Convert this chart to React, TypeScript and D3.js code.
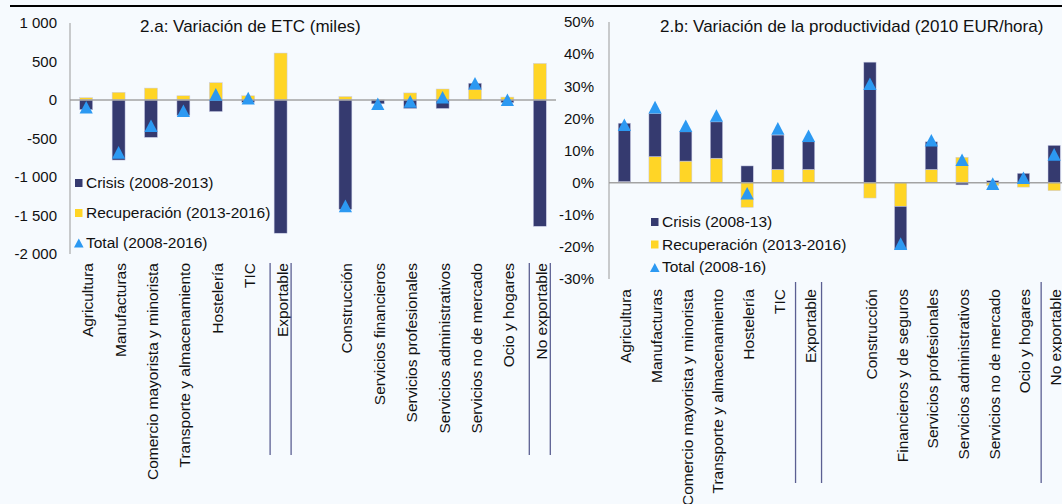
import React from "react";
import * as d3 from "d3";

// ---------- DATA ----------
const categoriesLeft = [
  "Agricultura", "Manufacturas", "Comercio mayorista y minorista", "Transporte y almacenamiento",
  "Hostelería", "TIC", "Exportable", "", "Construcción", "Servicios financieros",
  "Servicios profesionales", "Servicios administrativos", "Servicios no de mercado",
  "Ocio y hogares", "No exportable",
];
const categoriesRight = [
  "Agricultura", "Manufacturas", "Comercio mayorista  y minorista", "Transporte y almacenamiento",
  "Hostelería", "TIC", "Exportable", "", "Construcción", "Financieros y de seguros",
  "Servicios profesionales", "Servicios administrativos", "Servicios no de mercado",
  "Ocio y hogares", "No exportable",
];

// 2.a  Variación de ETC (miles)
const crisisLeft = [-125, -780, -485, -200, -150, -30, -1730, null, -1420, -50, -110, -110, 80, -35, -1640];
const recupLeft = [30, 100, 155, 55, 225, 55, 610, null, 45, 2, 92, 143, 138, 38, 475];
const totalLeft = [-95, -680, -335, -140, 73, 25, null, null, -1375, -48, -18, 35, 218, 3, null];

// 2.b  Variación de la productividad (%)
const crisisRight = [18.2, 13.4, 9.1, 11.3, 5.2, 10.7, 8.6, null, 37.5, -13.5, 8.6, -0.7, 0.6, 2.9, 11.6];
const recupRight = [0.3, 8.1, 6.7, 7.6, -7.7, 4.1, 4.1, null, -4.8, -7.4, 4.1, 7.9, -0.9, -1.4, -2.5];
const totalRight = [18.0, 23.5, 17.7, 20.9, -3.3, 16.9, 14.6, null, 30.8, -19.0, 13.2, 7.1, -0.3, 1.5, 8.8];

const ticksLeft = [1000, 500, 0, -500, -1000, -1500, -2000];
const ticksRight = [50, 40, 30, 20, 10, 0, -10, -20, -30];

const titleLeft = "2.a: Variación de ETC (miles)";
const titleRight = "2.b: Variación de la productividad (2010 EUR/hora)";
const legendLeft = ["Crisis (2008-2013)", "Recuperación (2013-2016)", "Total (2008-2016)"];
const legendRight = ["Crisis (2008-13)", "Recuperación (2013-2016)", "Total (2008-16)"];
const groupIdx = [6, 14];

// ---------- STYLE ----------
const W = 1062, H = 504;
const BG = "#f6fafe";
const NAVY = "#353a6f";
const YELLOW = "#ffd526";
const BLUE = "#2c99f2";
const FONT = "'Liberation Sans', Arial, sans-serif";
const fmtLeft = (v: number) => {
  const s = Math.abs(v).toString().replace(/\B(?=(\d{3})+(?!\d))/g, " ");
  return (v < 0 ? "-" : "") + s;
};
const fmtRight = (v: number) => `${v}%`;

type PanelProps = {
  cats: string[]; crisis: (number | null)[]; recup: (number | null)[]; total: (number | null)[];
  ticks: number[]; fmt: (v: number) => string; domain: [number, number];
  x0: number; x1: number; yTop: number; yBot: number; tickX: number;
  title: string; titleX: number; legend: string[]; legX: number; legY: number[];
  labelTop: number; sepOff: number; sepY: [number, number];
};

const tri = (s: number, h: number) => `M0,${-h} L${s},${h} L${-s},${h} Z`;

function Panel(p: PanelProps) {
  const idx = p.cats.map((_, i) => String(i));
  const x = d3.scaleBand().domain(idx).range([p.x0, p.x1]).paddingInner(0.6).paddingOuter(0.3);
  const y = d3.scaleLinear().domain(p.domain).range([p.yBot, p.yTop]);
  const rows = p.cats.map((_, i) => ({ i: String(i), recup: p.recup[i] ?? 0, crisis: p.crisis[i] ?? 0 }));
  const series = d3.stack<any>().keys(["recup", "crisis"]).offset(d3.stackOffsetDiverging)(rows);
  const colors: Record<string, string> = { recup: YELLOW, crisis: NAVY };
  const bw = x.bandwidth();
  const cx = (i: number) => (x(String(i)) as number) + bw / 2;
  const step = x.step();
  return (
    <g>
      {/* bars */}
      {series.map((s) => (
        <g key={s.key} fill={colors[s.key]}>
          {s.map((d, j) => {
            if (p.crisis[j] === null) return null;
            const yy = Math.min(y(d[0]), y(d[1]));
            const hh = Math.abs(y(d[0]) - y(d[1]));
            if (hh < 0.01) return null;
            return <rect key={j} x={x(String(j))} y={yy} width={bw} height={hh} stroke="#c9cce6" strokeWidth={0.5} />;
          })}
        </g>
      ))}
      {/* zero line */}
      <line x1={p.x0} x2={p.x0 + step * p.cats.length} y1={y(0)} y2={y(0)} stroke="#a3a3a3" strokeWidth={1.5} />
      {/* y axis */}
      <line x1={p.x0} x2={p.x0} y1={y(p.domain[1])} y2={y(p.domain[0])} stroke="#9a9a9a" strokeWidth={1} />
      {p.ticks.map((t) => (
        <text key={t} x={p.tickX} y={y(t)} dy="0.35em" textAnchor="end" fontSize={15} fill="#111">
          {p.fmt(t)}
        </text>
      ))}
      {/* totals */}
      {p.total.map((v, i) =>
        v === null ? null : (
          <path key={i} d={tri(6.6, 6.3)} transform={`translate(${cx(i)},${y(v)})`} fill={BLUE} />
        )
      )}
      {/* category labels */}
      {p.cats.map((c, i) =>
        c ? (
          <text key={i} transform={`translate(${cx(i) + 1.5},${p.labelTop}) rotate(-90)`}
            textAnchor="end" dominantBaseline="central" fontSize={15.5} fill="#111">
            {c}
          </text>
        ) : null
      )}
      {/* group separators */}
      {groupIdx.map((g) => (
        <g key={g} stroke="#5b5f92" strokeWidth={1.3}>
          <line x1={cx(g) - p.sepOff} x2={cx(g) - p.sepOff} y1={p.sepY[0]} y2={p.sepY[1]} />
          <line x1={cx(g) + p.sepOff} x2={cx(g) + p.sepOff} y1={p.sepY[0]} y2={p.sepY[1]} />
        </g>
      ))}
      {/* title */}
      <text x={p.titleX} y={32} fontSize={17} fill="#111">{p.title}</text>
      {/* legend */}
      <rect x={p.legX} y={p.legY[0] - 9} width={7.5} height={8} fill={NAVY} />
      <text x={p.legX + 11} y={p.legY[0]} fontSize={15.5} fill="#111">{p.legend[0]}</text>
      <rect x={p.legX} y={p.legY[1] - 9} width={7.5} height={8} fill={YELLOW} />
      <text x={p.legX + 11} y={p.legY[1]} fontSize={15.5} fill="#111">{p.legend[1]}</text>
      <path d={tri(4.8, 4.6)} transform={`translate(${p.legX + 3.8},${p.legY[2] - 4.5})`} fill={BLUE} />
      <text x={p.legX + 11} y={p.legY[2]} fontSize={15.5} fill="#111">{p.legend[2]}</text>
    </g>
  );
}

export default function App() {
  return (
    <svg width={W} height={H} style={{ position: "absolute", left: 0, top: 0, background: BG }}
      fontFamily={FONT}>
      <rect width={W} height={H} fill={BG} />
      <line x1={10} x2={W} y1={6} y2={6} stroke="#000" strokeWidth={2} />
      <Panel cats={categoriesLeft} crisis={crisisLeft} recup={recupLeft} total={totalLeft}
        ticks={ticksLeft} fmt={fmtLeft} domain={[-2000, 1000]}
        x0={70} x1={556} yTop={23} yBot={254} tickX={57}
        title={titleLeft} titleX={140} legend={legendLeft} legX={75} legY={[188, 218, 247.5]}
        labelTop={263} sepOff={10.5} sepY={[263, 455]} />
      <Panel cats={categoriesRight} crisis={crisisRight} recup={recupRight} total={totalRight}
        ticks={ticksRight} fmt={fmtRight} domain={[-30, 50]}
        x0={609} x1={609 + 15 * 30.7} yTop={22} yBot={279} tickX={594}
        title={titleRight} titleX={660} legend={legendRight} legX={651} legY={[227, 249.5, 272]}
        labelTop={289} sepOff={13} sepY={[282, 483]} />
    </svg>
  );
}
